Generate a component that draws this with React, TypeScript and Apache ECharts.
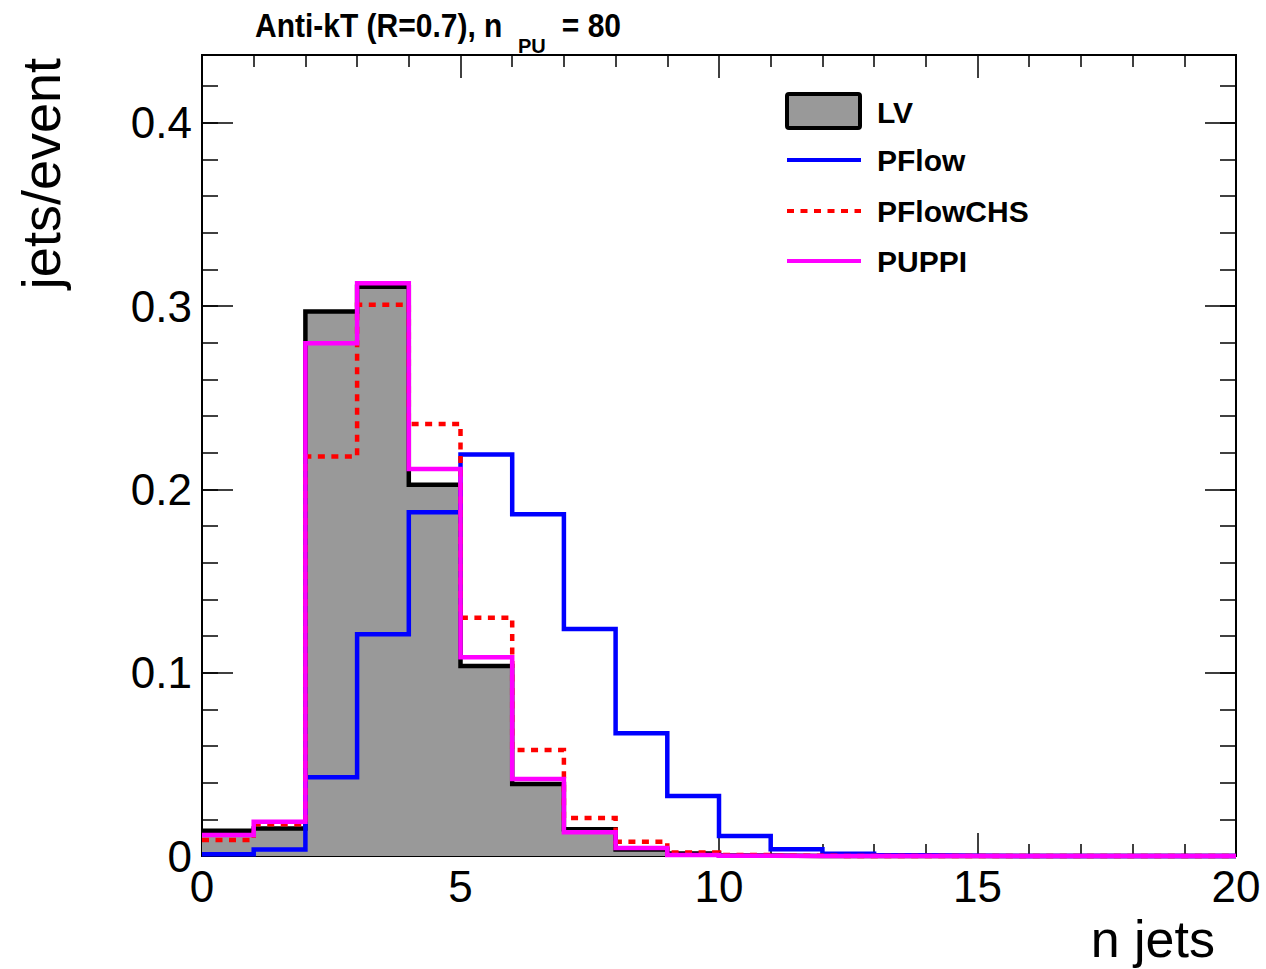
import React, { useEffect, useRef } from "react";
import * as echarts from "echarts";

const binEdges = [0, 1, 2, 3, 4, 5, 6, 7, 8, 9, 10, 11, 12, 13, 14, 15, 16, 17, 18, 19, 20];
const lv = [0.0138, 0.015, 0.297, 0.3105, 0.2025, 0.1037, 0.0393, 0.0146, 0.0035, 0.0013, 0.0003, 0, 0, 0, 0, 0, 0, 0, 0, 0];
const pflow = [0.001, 0.0036, 0.043, 0.121, 0.1875, 0.219, 0.1865, 0.1239, 0.067, 0.0327, 0.0109, 0.0037, 0.0012, 0.0004, 0.0001, 0, 0, 0, 0, 0];
const pflowchs = [0.0087, 0.0173, 0.218, 0.3007, 0.2357, 0.13, 0.0578, 0.0207, 0.0078, 0.0019, 0.0005, 0.0001, 0, 0, 0, 0, 0, 0, 0, 0];
const puppi = [0.0115, 0.0187, 0.2798, 0.3125, 0.2112, 0.1084, 0.042, 0.0129, 0.0044, 0.0006, 0.0001, 0, 0, 0, 0, 0, 0, 0, 0, 0];

const yTicksMajor = 0.1;
const yTicksMinor = 0.02;
const yMax = 0.437;
const xMax = 20;

const FONT = "'Liberation Sans', Arial, Helvetica, sans-serif";

function stepData(vals: number[]) {
  const pts: number[][] = vals.map((v, i) => [binEdges[i], v]);
  pts.push([binEdges[vals.length], vals[vals.length - 1]]);
  return pts;
}

export default function App() {
  const ref = useRef<HTMLDivElement>(null);
  useEffect(() => {
    if (!ref.current) return;
    const chart = echarts.init(ref.current, undefined, { renderer: "svg" });
    const yFmt = (v: number) => {
      if (Math.abs(v * 10 - Math.round(v * 10)) > 1e-6) return "";
      return v === 0 ? "0" : v.toFixed(1);
    };
    const baseX = {
      type: "value",
      min: 0,
      max: xMax,
      interval: 5,
      splitLine: { show: false },
      axisLine: { show: true, onZero: false, lineStyle: { color: "#000", width: 2 } },
      axisTick: { show: true, inside: true, length: 23, lineStyle: { color: "#000", width: 1.5 } },
      minorTick: { show: true, splitNumber: 5, length: 12, lineStyle: { color: "#000", width: 1.5 } },
    };
    const baseY = {
      type: "value",
      min: 0,
      max: yMax,
      splitLine: { show: false },
      axisLine: { show: true, onZero: false, lineStyle: { color: "#000", width: 2 } },
    };
    const line = (name: string, vals: number[], color: string, type: any, extra: any = {}) => ({
      name,
      type: "line",
      step: "end",
      data: stepData(vals),
      symbol: "none",
      clip: false,
      xAxisIndex: 0,
      yAxisIndex: 0,
      lineStyle: { color, width: 4.5, type, cap: "butt", join: "miter" },
      ...extra,
    });
    chart.setOption({
      animation: false,
      backgroundColor: "#fff",
      grid: { left: 202, right: 30, top: 55, bottom: 113, outerBoundsMode: "none" },
      xAxis: [
        {
          ...baseX,
          position: "bottom",
          axisLabel: { show: true, color: "#000", fontSize: 44, fontFamily: FONT, margin: 8 },
        },
        { ...baseX, position: "top", axisLabel: { show: false } },
      ],
      yAxis: [
        {
          ...baseY,
          position: "left",
          interval: yTicksMajor,
          axisTick: { show: true, inside: true, length: 31, lineStyle: { color: "#000", width: 1.5 } },
          axisLabel: { show: true, color: "#000", fontSize: 44, fontFamily: FONT, margin: 10, showMaxLabel: false, formatter: yFmt },
        },
        {
          ...baseY,
          position: "left",
          interval: yTicksMinor,
          axisTick: { show: true, inside: true, length: 16, lineStyle: { color: "#000", width: 1.5 } },
          axisLabel: { show: false },
        },
        {
          ...baseY,
          position: "right",
          interval: yTicksMajor,
          axisTick: { show: true, inside: true, length: 31, lineStyle: { color: "#000", width: 1.5 } },
          axisLabel: { show: false },
        },
        {
          ...baseY,
          position: "right",
          interval: yTicksMinor,
          axisTick: { show: true, inside: true, length: 16, lineStyle: { color: "#000", width: 1.5 } },
          axisLabel: { show: false },
        },
      ],
      series: [
        line("LV", lv, "#000000", "solid", { areaStyle: { color: "#999999", opacity: 1 } }),
        line("PFlow", pflow, "#0000ff", "solid"),
        line("PFlowCHS", pflowchs, "#ff0000", [7, 6.5]),
        line("PUPPI", puppi, "#ff00ff", "solid"),
      ],
      graphic: [
        { type: "text", x: 255, y: 25, scaleY: 1.1, style: { text: "Anti-kT (R=0.7), n", font: `bold 30px ${FONT}`, fill: "#000", align: "left", verticalAlign: "middle" } },
        { type: "text", x: 518, y: 45, scaleY: 1.05, style: { text: "PU", font: `bold 20px ${FONT}`, fill: "#000", align: "left", verticalAlign: "middle" } },
        { type: "text", x: 621, y: 25, scaleY: 1.1, style: { text: "= 80", font: `bold 30px ${FONT}`, fill: "#000", align: "right", verticalAlign: "middle" } },
        { type: "text", x: 1215, y: 939, style: { text: "n jets", font: `52px ${FONT}`, fill: "#000", align: "right", verticalAlign: "middle" } },
        { type: "text", x: 41, y: 58, rotation: Math.PI / 2, style: { text: "jets/event", font: `54px ${FONT}`, fill: "#000", align: "right", verticalAlign: "middle" } },
        { type: "rect", shape: { x: 787, y: 94, width: 73, height: 34, r: 2 }, style: { fill: "#999999", stroke: "#000", lineWidth: 4 } },
        { type: "line", shape: { x1: 787, y1: 160, x2: 861, y2: 160 }, style: { stroke: "#0000ff", lineWidth: 4 } },
        { type: "line", shape: { x1: 787, y1: 211, x2: 861, y2: 211 }, style: { stroke: "#ff0000", lineWidth: 4, lineDash: [7, 6.5] } },
        { type: "line", shape: { x1: 787, y1: 261, x2: 861, y2: 261 }, style: { stroke: "#ff00ff", lineWidth: 4 } },
        { type: "text", x: 877, y: 112, style: { text: "LV", font: `bold 30px ${FONT}`, fill: "#000", align: "left", verticalAlign: "middle" } },
        { type: "text", x: 877, y: 160, style: { text: "PFlow", font: `bold 30px ${FONT}`, fill: "#000", align: "left", verticalAlign: "middle" } },
        { type: "text", x: 877, y: 211, style: { text: "PFlowCHS", font: `bold 30px ${FONT}`, fill: "#000", align: "left", verticalAlign: "middle" } },
        { type: "text", x: 877, y: 261, style: { text: "PUPPI", font: `bold 30px ${FONT}`, fill: "#000", align: "left", verticalAlign: "middle" } },
      ],
    });
    return () => chart.dispose();
  }, []);
  return (
    <div
      ref={ref}
      style={{ position: "fixed", left: 0, top: 0, width: 1266, height: 969, background: "#fff" }}
    />
  );
}
